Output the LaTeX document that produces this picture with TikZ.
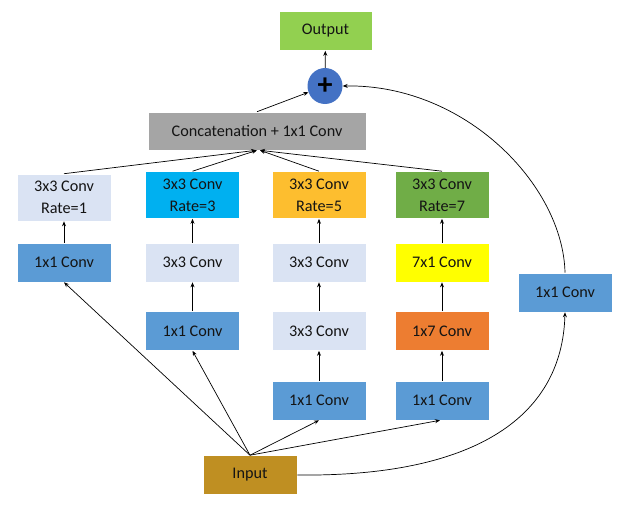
\documentclass[tikz,border=0pt]{standalone}
\usepackage{fontspec}
\setmainfont{Carlito}
\usetikzlibrary{arrows.meta,shapes.geometric}
\definecolor{cLight}{HTML}{DAE3F3}
\definecolor{cBlue}{HTML}{5B9BD5}
\definecolor{cCyan}{HTML}{00B0F0}
\definecolor{cGold}{HTML}{FDBE2F}
\definecolor{cGreen}{HTML}{70AD47}
\definecolor{cYellow}{HTML}{FFFF00}
\definecolor{cOrange}{HTML}{ED7D31}
\definecolor{cOut}{HTML}{92D050}
\definecolor{cGray}{HTML}{A5A5A5}
\definecolor{cInput}{HTML}{BF8F22}
\definecolor{cPlus}{HTML}{4472C4}
\definecolor{cText}{HTML}{141414}
\tikzset{
  box/.style={rectangle, draw=white, line width=0.6pt, minimum width=94pt, minimum height=39pt,
    inner sep=0pt, align=center, font=\fontsize{16.2}{22}\selectfont, text=cText},
  tall/.style={box, minimum height=47pt},
  conn/.style={draw=black, line width=0.7pt, -{Stealth[length=5pt,width=4pt]}},
}
\begin{document}
\begin{tikzpicture}[x=1pt,y=-1pt]
\useasboundingbox (0,0) rectangle (623,507);
% nodes
\node[box, fill=cOut, minimum width=93pt] (out) at (325.5,31) {Output};
\node[ellipse, fill=cPlus, minimum width=35pt, minimum height=36pt, inner sep=0pt,
      font=\fontsize{30}{30}\selectfont\bfseries] (plus) at (325,86) {+};
\node[box, fill=cGray, minimum width=218pt, minimum height=38pt] (cat) at (257,131) {Concatenation + 1x1 Conv};
% column A
\node[tall, fill=cLight] (a1) at (64,197.5) {3x3 Conv\\Rate=1};
\node[box, fill=cBlue] (a2) at (64,262.5) {1x1 Conv};
% column B
\node[tall, fill=cCyan] (b1) at (192.5,195) {3x3 Conv\\Rate=3};
\node[box, fill=cLight] (b2) at (192.5,262.5) {3x3 Conv};
\node[box, fill=cBlue] (b3) at (192.5,331) {1x1 Conv};
% column C
\node[tall, fill=cGold] (c1) at (319,195) {3x3 Conv\\Rate=5};
\node[box, fill=cLight] (c2) at (319,262.5) {3x3 Conv};
\node[box, fill=cLight] (c3) at (319,331) {3x3 Conv};
\node[box, fill=cBlue] (c4) at (319,400.5) {1x1 Conv};
% column D
\node[tall, fill=cGreen] (d1) at (442,195) {3x3 Conv\\Rate=7};
\node[box, fill=cYellow] (d2) at (442,262.5) {7x1 Conv};
\node[box, fill=cOrange] (d3) at (442,331) {1x7 Conv};
\node[box, fill=cBlue] (d4) at (442,400.5) {1x1 Conv};
% right branch
\node[box, fill=cBlue] (e) at (565,292.5) {1x1 Conv};
% input
\node[box, fill=cInput] (in) at (250,475) {Input};
\coordinate (inTop) at (in.north);
% arrows
\draw[conn] (plus) -- (out);
\draw[conn] (cat.north) -- (plus);
\draw[conn] (a1.north) -- ([xshift=-1pt]cat.south);
\draw[conn] (b1.north) -- ([xshift=0pt]cat.south);
\draw[conn] (c1.north) -- ([xshift=3pt]cat.south);
\draw[conn] (d1.north) -- ([xshift=3pt]cat.south);
\draw[conn] (a2) -- (a1);
\draw[conn] (b2) -- (b1);
\draw[conn] (b3) -- (b2);
\draw[conn] (c2) -- (c1);
\draw[conn] (c3) -- (c2);
\draw[conn] (c4) -- (c3);
\draw[conn] (d2) -- (d1);
\draw[conn] (d3) -- (d2);
\draw[conn] (d4) -- (d3);
\draw[conn] (inTop) -- (a2.south);
\draw[conn] (inTop) -- (b3.south);
\draw[conn] (inTop) -- (c4.south);
\draw[conn] (inTop) -- ([xshift=-2pt]d4.south);
\draw[conn] (in.east) .. controls (470,477) and (562,420) .. (e.south);
\draw[conn] (e.north) .. controls (563,185) and (465,84) .. (plus.east);
\end{tikzpicture}
\end{document}
